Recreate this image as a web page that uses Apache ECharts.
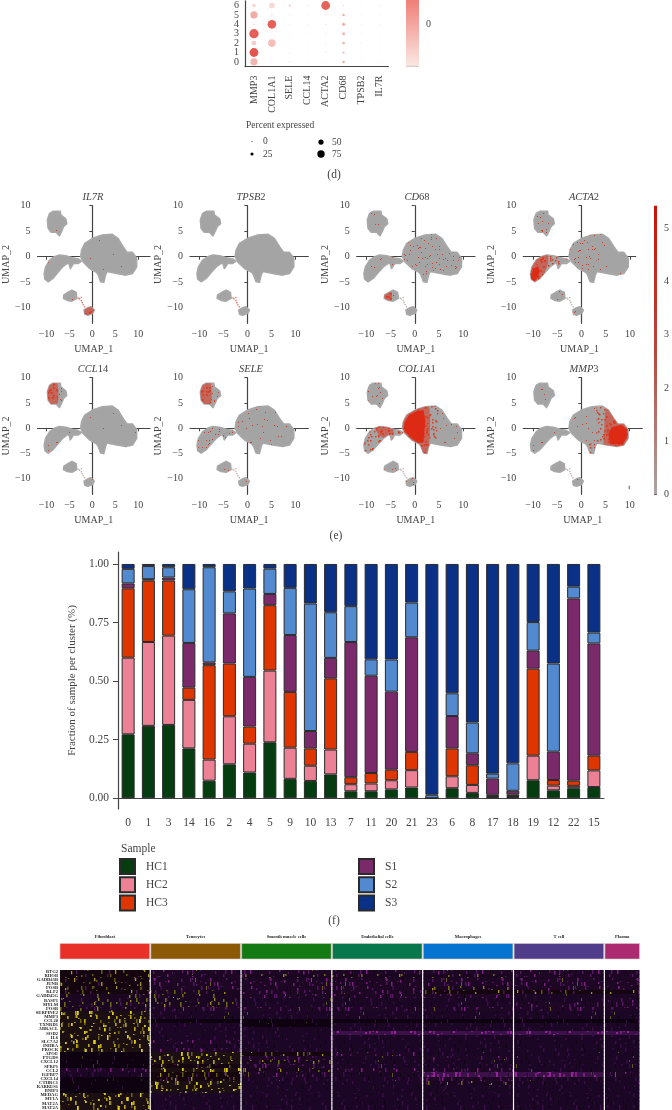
<!DOCTYPE html>
<html><head><meta charset="utf-8">
<style>html,body{margin:0;padding:0;background:#fff;overflow:hidden}#c{width:672px;height:1110px;filter:blur(.4px)}</style>
<script src="https://cdn.jsdelivr.net/npm/echarts@6/dist/echarts.min.js"></script>
</head><body><div id="c"></div><script>
// ---------- (d) dot plot
const dotGenes=['MMP3','COL1A1','SELE','CCL14','ACTA2','CD68','TPSB2','IL7R'];
const dotClusters=['0','1','2','3','4','5','6'];
// one row per gene: percent expressed for clusters 0..6
const dotPct=[[72,92,45,98,12,72,30],[6,2,78,4,90,12,55],[4,3,3,4,5,3,12],[3,2,2,3,3,2,5],[4,4,5,6,6,5,92],[18,14,20,24,24,16,6],[2,2,4,2,2,2,2],[3,2,3,2,4,2,4]];
// matching average expression, 0..1
const dotExp=[[.36,.98,.2,.92,.08,.42,.15],[.05,.02,.3,.03,.92,.05,.14],[.05,.04,.04,.05,.05,.04,.3],[.04,.03,.03,.04,.04,.03,.06],[.06,.06,.08,.08,.08,.06,.9],[.4,.36,.36,.36,.44,.42,.1],[.03,.03,.08,.03,.03,.03,.03],[.05,.03,.06,.03,.06,.03,.06]];
const percentLegend=[0,25,50,75];
// ---------- (e) UMAP
const umapTitles=['IL7R','TPSB2','CD68','ACTA2','CCL14','SELE','COL1A1','MMP3'];
const umapTicks=[-10,-5,0,5,10];
const expressionTicks=[0,1,2,3,4,5];
const blobA=[[-9.3,8.5],[-8.6,8.9],[-7,8.9],[-6.9,8.2],[-5.8,7.4],[-5.6,6.5],[-6.3,5.9],[-6.7,5],[-7.2,4.1],[-7.9,4.8],[-9,4.8],[-9.65,5.6],[-9.8,7.2],[-9.45,8.2]];
const blobB=[[-10.5,-3.3],[-10.2,-2],[-9.3,-.65],[-8.3,0],[-7.2,.33],[-5.8,.2],[-4.4,-.2],[-3.05,-.45],[-2.4,-.85],[-3.05,-1.3],[-4.1,-1.3],[-4.8,-2.3],[-5.1,-1.3],[-5.5,-1.3],[-6.5,-2],[-7.55,-3.1],[-8.6,-4.25],[-9.65,-4.9],[-10.35,-4.4]];
const blobC=[[-2.35,1.3],[-1.65,2.6],[.05,3.6],[2.15,4.25],[4.25,4.4],[5.6,3.6],[6.65,2],[7.55,.85],[8.75,.85],[9.65,-.3],[9.65,-2],[8.75,-3.3],[7.35,-3.6],[5.3,-3.3],[3.2,-2.9],[2.85,-3.6],[2.5,-5],[1.8,-4.9],[1.3,-3.6],[.9,-3.05],[-.6,-2.3],[-2,-1],[-2.55,0]];
const blobD=[[-6.2,-7.5],[-5.15,-6.9],[-4.45,-6.55],[-3.55,-7],[-3.4,-8.15],[-4.45,-8.7],[-5.5,-8.55],[-6.3,-8.15]];
const blobE=[[-1.8,-10.45],[-1,-10],[-.3,-9.8],[.4,-10.45],[.05,-11.1],[-1,-11.45],[-1.65,-11.25]];
const bridge=[[-3,-8.1],[-2.8,-8.3],[-2.4,-8],[-2.4,-8.6],[-2.2,-9],[-2,-9.4],[-1.7,-9.8]];
const cWest=[[-2.35,1.3],[-1.65,2.6],[.05,3.6],[2.15,4.25],[3,4.3],[3.2,1.5],[3,-2.9],[.9,-3.05],[-.6,-2.3],[-2,-1],[-2.55,0]];
const cCore=[[-2,1.3],[-1.2,2.6],[.2,3.3],[1.8,3.6],[2.2,1.5],[1.8,-2.8],[.8,-2.9],[-.5,-2.1],[-1.8,-.9],[-2.3,0]];
const cMid=[[3,4.3],[4.25,4.4],[5,4],[4.8,1.5],[4.6,-3.2],[3,-2.9],[3.2,1.5]];
const cEast=[[5,4],[5.6,3.6],[6.65,2],[7.55,.85],[8.75,.85],[9.65,-.3],[9.65,-2],[8.75,-3.3],[7.35,-3.6],[5.3,-3.3],[4.6,-3.2],[4.8,1.5]];
const eastCore=[[6,-3.2],[8.6,-3.1],[9.4,-1.8],[9.4,-.3],[8.5,.6],[7.5,.5],[6.3,.2],[5.6,-1.2]];
const tail=[[3,-2.9],[2.85,-3.6],[2.5,-5],[1.8,-4.9],[1.3,-3.6],[.9,-3.05]];
const aLeft=[[-9.3,8.5],[-8.6,8.9],[-7.6,8.9],[-7.4,7],[-7.5,5],[-7.9,4.8],[-9,4.8],[-9.65,5.6],[-9.8,7.2],[-9.45,8.2]];
const bLeft=[[-10.5,-3.3],[-10.2,-2],[-9.3,-.65],[-8.3,0],[-7.2,.33],[-6.8,.2],[-6.9,-1.4],[-7.55,-3.1],[-8.6,-4.25],[-9.65,-4.9],[-10.35,-4.4]];
const bCore=[[-10.4,-3.5],[-9.9,-2.4],[-9,-1.8],[-8.6,-2.8],[-9,-4],[-9.7,-4.8],[-10.3,-4.3]];
const bUpper=[[-8.3,0],[-7.2,.33],[-5.8,.2],[-4.4,-.2],[-4.4,-1.3],[-5.5,-1.3],[-6.5,-1.9],[-7.4,-1.4]];
const dLeft=[[-6.2,-7.5],[-5.15,-6.9],[-4.7,-7],[-4.7,-8.6],[-5.5,-8.55],[-6.3,-8.15]];
// expression regions per panel: [region, density level 1-6]
const umapRegions=[
 [[blobD,2],[blobE,5],[blobC,1],[blobB,1],[blobA,1]],
 [],
 [[blobA,2],[blobB,2],[blobC,3],[cMid,3],[tail,3],[blobD,3],[dLeft,5],[blobE,2]],
 [[blobA,3],[blobB,4],[bLeft,5],[bCore,6],[cWest,3],[cMid,2],[cEast,1],[blobD,2],[blobE,2]],
 [[blobA,3],[aLeft,5],[blobB,2],[blobC,1],[blobD,1],[blobE,2]],
 [[blobA,3],[aLeft,5],[blobB,3],[blobC,2],[blobD,2],[blobE,2]],
 [[blobA,3],[blobB,4],[bUpper,5],[cEast,2],[cMid,4],[cWest,5],[cCore,6],[tail,5],[blobD,3],[blobE,3]],
 [[blobA,2],[blobB,2],[cWest,2],[cMid,4],[cEast,5],[eastCore,6],[tail,4],[blobD,1],[blobE,2]]
];
// ---------- (f) stacked bars
const barClusters=['0','1','3','14','16','2','4','5','9','10','13','7','11','20','21','23','6','8','17','18','19','12','22','15'];
const HC1=[.273,.309,.313,.213,.075,.145,.11,.239,.083,.074,.102,.03,.03,.038,.046,0,.043,.023,.005,.005,.077,.034,.043,.048];
const HC2=[.327,.358,.381,.207,.09,.205,.123,.306,.133,.065,.106,.03,.033,.039,.074,0,.051,.034,.005,.005,.105,.02,.01,.071];
const HC3=[.296,.262,.235,.052,.403,.225,.073,.279,.238,.074,.304,.03,.045,.045,.078,0,.119,.084,.005,.007,.371,.024,.022,.063];
const S1=[.021,.006,.013,.191,.012,.214,.212,.048,.243,.074,.087,.577,.415,.333,.489,0,.138,.051,.069,.015,.077,.121,.778,.479];
const S2=[.062,.056,.044,.229,.406,.094,.377,.108,.201,.544,.195,.153,.07,.137,.148,.015,.097,.131,.021,.117,.122,.376,.05,.046];
const S3=[.021,.009,.014,.108,.014,.117,.105,.02,.102,.169,.206,.18,.407,.408,.165,.985,.552,.677,.895,.851,.248,.425,.097,.293];
const sampleNames=['HC1','HC2','HC3','S1','S2','S3'];
const sampleSeries=[HC1,HC2,HC3,S1,S2,S3];
const sampleColors=['#053d10','#ec8095','#df3500','#7a2a6b','#5289cf','#0a3185'];
// ---------- (g) marker heatmap
const cellTypes=['Fibroblast','Tenocytes','Smooth muscle cells','Endothelial cells','Macrophages','T cell','Plasma'];
const cellTypeColors=['#e83028','#8c5a06','#137a14','#07784c','#0474d0','#4f3d8c','#ac2a70'];
const cellCounts=[89.7,89.7,89.7,89.7,89.7,89.7,34.6];
const markerGenes=['BTG2','RHOB','GADD45B','JUNB','FOSB','KLF2','GADD45G','BASP1','MYLM','FOSB','SERPINE2','MMP3','CCL20','TXNRD1','ABRACL','SOD2','IL6','SLC7A2','INHBA','PROCR','APOE','PTGDS','CXCL12','SFRP1','CCL2','IGFBP7','CXCL14','CTHRC1','RARRES1','BNIP3','MEDAG','MT1A','MAT2A','MAT2A'];
// expression band of each gene in each cell type: 0 none .. 6 high
const heatRows=['4222222','4233322','4222222','4222222','4222322','4322444','3322211','3311112','3311122','3222222','5111111','5111111','5000000','5101111','5111111','5116666','5111111','5211111','5111111','5211111','0542111','0521211','0531111','0421111','2532211','1421662','0411211','0511311','0511111','0511111','5111111','5111111','5111111','5111111'];

// ---------- helpers
const serif='"Liberation Serif",serif',ink='#444';
const flecks=[[3,2],[31,19],[14,11],[42,6],[24,25],[8,21],[37,13],[19,4],[45,23],[28,9],[1,14],[12,27],[34,1],[22,17],[40,27],[6,8],[17,23],[30,14],[44,16],[10,15],[26,2],[35,24],[2,26],[20,10],[38,8],[15,18],[43,12],[29,27],[7,4],[24,13],[33,7],[12,5],[41,20],[18,14],[5,17],[27,21],[36,17],[22,1],[46,1],[9,11]];
const fleckShifts=[[0,0],[53,19],[27,36],[74,8],[13,44],[88,31],[39,5],[61,47]];
function texture(base,layers){ // layers: [color,count,width,height]
  const W=97,H=53,c=document.createElement('canvas');c.width=W;c.height=H;const g=c.getContext('2d');
  if(base){g.fillStyle=base;g.fillRect(0,0,W,H);}
  layers.forEach(([color,n,w,h],li)=>{g.fillStyle=color;
    for(let i=0;i<n;i++){const f=flecks[i%40],s=fleckShifts[(Math.floor(i/40)+li)%8];
      g.fillRect((f[0]*2+s[0])%W,(f[1]*2+s[1])%H,w,h);}});
  return c;
}
const red='#dc3a20';
const redTiles={1:texture(null,[[red,12,1,1]]),2:texture(null,[[red,80,1,1]]),3:texture(null,[[red,200,1,1]]),4:texture(null,[[red,320,1.5,1.5]]),5:texture('rgba(218,60,40,.6)',[[red,320,1.7,1.7]])};
const heatFills=[
 texture('#0f0210',[['#341040',22,1,5],['#4a3a10',4,1,5]]),
 texture('#1c0626',[['#380e44',80,1.5,5],['#100414',40,1.5,5],['#5a5a10',3,1,5]]),
 texture('#1d0724',[['#561562',120,1.5,5],['#0e0212',60,1.5,5],['#7e1e80',20,1.5,5],['#6a6014',5,1,5]]),
 texture('#1a0620',[['#4a1650',60,1.5,5],['#6c6a12',50,1.5,5],['#9a9010',14,1,5]]),
 texture('#14050f',[['#4a1650',30,1.5,5],['#5e5810',70,1.5,5],['#a89a12',24,1,5]]),
 texture('#1c0f12',[['#6e6410',100,1.5,5],['#b8a612',60,1.5,5],['#e0d018',22,1.5,5]]),
 texture('#3c1048',[['#7c1a80',120,2,5],['#98229a',34,2,5],['#240a2e',30,1.5,5]])
];
const grids=[],xAxes=[],yAxes=[],series=[],titles=[],graphics=[];
const text=(x,y,t,o={})=>graphics.push({type:'text',x,y,silent:true,style:Object.assign({text:t,fill:ink,font:`${o.size||10}px ${serif}`,textAlign:o.align||'left',textVerticalAlign:'middle'},o.style||{})});
function addGrid(g,x,y){grids.push(Object.assign({containLabel:false},g));xAxes.push(Object.assign({gridIndex:grids.length-1},x));yAxes.push(Object.assign({gridIndex:grids.length-1},y));return grids.length-1;}
const axisLine={lineStyle:{color:'#444',width:1.2}};

// (d) dot plot
const colorExpr=v=>{const a=[251,232,228],b=[220,38,30];return `rgb(${a.map((s,i)=>Math.round(s+(b[i]-s)*v)).join(',')})`;};
const gd=addGrid({left:245,top:.8,width:143.4,height:65.8},
 {type:'category',data:dotGenes,axisLine,axisTick:{length:3,lineStyle:{color:'#444'}},axisLabel:{rotate:90,fontFamily:serif,fontSize:10,color:ink,margin:9,interval:0}},
 {type:'category',data:dotClusters,axisLine,axisTick:{length:3,lineStyle:{color:'#444'}},axisLabel:{fontFamily:serif,fontSize:10,color:ink,margin:6,interval:0}});
const dotData=[];dotGenes.forEach((g,i)=>dotClusters.forEach((c,j)=>dotData.push({value:[g,c,dotPct[i][j]],itemStyle:{color:colorExpr(dotExp[i][j])}})));
series.push({type:'scatter',xAxisIndex:gd,yAxisIndex:gd,data:dotData,symbolSize:v=>1+.085*v[2],clip:false,silent:true});
function colorbar(pos,min,max,ticks,stops,labelSize){
  const i=addGrid(pos,{type:'value',min:0,max:1,show:false},
   {type:'value',position:'right',min,max,splitLine:{show:false},axisLine:{show:false},axisTick:{show:true,length:3,inside:false,customValues:ticks,lineStyle:{color:'#555'}},axisLabel:{customValues:ticks,fontFamily:serif,fontSize:labelSize,color:ink,margin:7}});
  series.push({type:'custom',xAxisIndex:i,yAxisIndex:i,silent:true,data:[[0,min,1,max]],renderItem:(p,api)=>{const a=api.coord([0,max]),b=api.coord([1,min]);return {type:'rect',shape:{x:a[0],y:a[1],width:b[0]-a[0],height:b[1]-a[1]},style:{fill:new echarts.graphic.LinearGradient(0,0,0,1,stops)}};}});
}
colorbar({left:406,top:0,width:13,height:67},-1,.576,[0],[{offset:0,color:'#ef7f78'},{offset:.97,color:'#fbe6e2'},{offset:1,color:'#cfc8c6'}],10);
colorbar({left:654,top:205.7,width:8.4,height:288.6},0,5.43,expressionTicks,[{offset:0,color:'#cc1005'},{offset:.5,color:'#b9453c'},{offset:1,color:'#aaa5a3'}],10);
// percent legend
text(246,125,'Percent expressed',{size:9.5});
const legendDots=[[252,141.5],[252,154],[321,142],[321,154]];
percentLegend.forEach((v,i)=>{const [x,y]=legendDots[i];
 graphics.push({type:'circle',x,y,silent:true,shape:{r:(1+.085*v)/2},style:{fill:'#000'}});
 text(x+11,y,String(v),{size:9.5});});
text(334,175,'(d)',{size:11.5,align:'center'});
text(336,536,'(e)',{size:11.5,align:'center'});
text(334,921,'(f)',{size:11.5,align:'center'});

// (e) UMAP panels
const cols=[{l:32.3,r:150,x0:-11.96,x1:12.57},{l:190,r:308.3,x0:-11.96,x1:12.68},{l:356.7,r:475,x0:-12,x1:12.45},{l:523.3,r:635.7,x0:-12,x1:11.2}];
const rows=[{t:205.7,b:323.3},{t:377.7,b:494.3}];
const titleCenters=[88,246,412,579];
const nameGaps=[13,13,18,25];
const tickFmt=v=>String(v).replace('-','\u2212');
const axisFont={fontFamily:serif,fontSize:10,color:ink,formatter:tickFmt};
umapTitles.forEach((title,k)=>{
 const c=Object.assign({},cols[k%4]),r=rows[k>3?1:0];
 if(k===7){c.r=642.3;c.x1=12.6;}
 const i=addGrid({left:c.l,width:c.r-c.l,top:r.t,height:r.b-r.t},
  {type:'value',min:c.x0,max:c.x1,splitLine:{show:false},axisLine,axisTick:{length:3,customValues:umapTicks,lineStyle:{color:'#444'}},axisLabel:Object.assign({customValues:umapTicks,margin:6},axisFont),name:'UMAP_1',nameLocation:'middle',nameGap:21,nameTextStyle:{fontFamily:serif,fontSize:10,color:ink}},
  {type:'value',min:-13.05,max:10,splitLine:{show:false},axisLine,axisTick:{length:3,customValues:umapTicks,lineStyle:{color:'#444'}},axisLabel:Object.assign({customValues:umapTicks,margin:7},axisFont),name:'UMAP_2',nameLocation:'middle',nameGap:nameGaps[k%4],nameTextStyle:{fontFamily:serif,fontSize:10,color:ink}});
 const m=title.match(/^(.*?)(\d*)$/);
 titles.push({text:'{i|'+m[1]+'}'+(m[2]?'{n|'+m[2]+'}':''),left:titleCenters[k%4],top:r.t-19,textAlign:'center',textStyle:{fontWeight:'normal',rich:{i:{fontFamily:serif,fontStyle:'italic',fontWeight:'normal',fontSize:10.5,color:ink},n:{fontFamily:serif,fontWeight:'normal',fontSize:10.5,color:ink}}}});
 const poly=(pts,fill,stroke)=>series.push({type:'custom',xAxisIndex:i,yAxisIndex:i,silent:true,clip:false,data:[[pts[0][0],pts[0][1]]],renderItem:(p,api)=>({type:'polygon',shape:{points:pts.map(q=>api.coord(q))},style:stroke?{fill,stroke,lineWidth:1.6,lineJoin:'round'}:{fill}})});
 [blobA,blobB,blobC,blobD,blobE].forEach(b=>poly(b,'#a4a4a4','#a8a8a8'));
 series.push({type:'scatter',xAxisIndex:i,yAxisIndex:i,silent:true,symbolSize:1.6,itemStyle:{color:k===0||k===1?'#d84a34':'#b59a96'},data:bridge});
 umapRegions[k].forEach(([pts,lvl])=>poly(pts,lvl>=6?'#dc2a14':{image:redTiles[lvl],repeat:'repeat'}));
 if(k===7)series.push({type:'scatter',xAxisIndex:i,yAxisIndex:i,silent:true,symbol:'rect',symbolSize:[1,3.5],itemStyle:{color:'#333'},data:[[9.9,-11.7]]});
});

// (f) stacked bars
const gb=addGrid({left:118,top:552,width:486,height:257},
 {type:'category',data:barClusters,axisLine,axisTick:{alignWithLabel:true,length:5,lineStyle:{color:'#444'}},axisLabel:{fontFamily:serif,fontSize:11.5,color:ink,margin:8,interval:0}},
 {type:'value',min:-.0457,max:1.051,splitLine:{show:false},axisLine:{show:true,lineStyle:{color:'#444',width:1.2}},axisTick:{show:true,length:5,customValues:[0,.25,.5,.75,1],lineStyle:{color:'#444'}},
  axisLabel:{customValues:[0,.25,.5,.75,1],formatter:v=>v.toFixed(2),fontFamily:serif,fontSize:11.5,color:ink,margin:9},
  name:'Fraction of sample per cluster (%)',nameLocation:'middle',nameGap:27,nameTextStyle:{fontFamily:serif,fontSize:11,color:ink,padding:[0,0,6,0]}});
sampleNames.forEach((n,i)=>series.push({type:'bar',name:n,xAxisIndex:gb,yAxisIndex:gb,stack:'f',barWidth:13,data:sampleSeries[i],silent:true,itemStyle:{color:sampleColors[i],borderColor:'#2a2a2a',borderWidth:1}}));
text(121,849,'Sample',{size:11.5});
const mkLegend=(names,left)=>({data:names,left,top:858,orient:'vertical',icon:'rect',itemWidth:15,itemHeight:15,itemGap:1.3,selectedMode:false,padding:0,textStyle:{fontFamily:serif,fontSize:11.5,color:ink,padding:[0,0,0,6]}});

// (g) heatmap
const heatLeft=60,gap=1.2;
const starts=[];cellCounts.reduce((s,w,i)=>{starts[i]=s;return s+w+gap;},0);
const heatTotal=starts[6]+cellCounts[6];
const ga=addGrid({left:heatLeft,width:579.5,top:943.5,height:15.5},{type:'value',min:0,max:heatTotal,show:false},{type:'value',min:0,max:1,show:false});
series.push({type:'custom',xAxisIndex:ga,yAxisIndex:ga,silent:true,clip:false,data:cellTypes.map((n,i)=>[starts[i],cellCounts[i]]),
 renderItem:(p,api)=>{const i=p.dataIndex,a=api.coord([api.value(0),1]),b=api.coord([api.value(0)+api.value(1),0]);
  return {type:'group',children:[
   {type:'rect',shape:{x:a[0],y:a[1],width:b[0]-a[0],height:b[1]-a[1]},style:{fill:cellTypeColors[i],stroke:'#d8c8c4',lineWidth:.6}},
   {type:'text',style:{x:(a[0]+b[0])/2,y:a[1]-7,text:cellTypes[i],fill:'#222',font:`bold 4.6px ${serif}`,textAlign:'center',textVerticalAlign:'middle'}}]};}});
const gh=addGrid({left:heatLeft,width:579.5,top:969.5,height:141.1},
 {type:'value',min:0,max:heatTotal,show:false},
 {type:'category',inverse:true,data:markerGenes,axisLine:{show:false},axisTick:{show:false},axisLabel:{interval:0,fontFamily:serif,fontSize:4.6,fontWeight:'bold',color:'#222',margin:2}});
const heatData=[];heatRows.forEach((r,ri)=>[...r].forEach((l,gi)=>heatData.push([starts[gi],ri,cellCounts[gi],+l,gi])));
series.push({type:'custom',xAxisIndex:gh,yAxisIndex:gh,silent:true,data:heatData,
 renderItem:(p,api)=>{const x=api.value(0),ri=api.value(1),gi=api.value(4),a=api.coord([x,ri]),b=api.coord([x+api.value(2),ri]),h=api.size([0,1])[1];
  const y0=Math.round(a[1]-h/2),y1=Math.round(a[1]+h/2);
  return {type:'rect',shape:{x:a[0],y:y0,width:b[0]-a[0],height:y1-y0+.5},style:{fill:{image:heatFills[api.value(3)],repeat:'repeat',x:(ri*37+gi*19)%97,y:(ri*23)%53}}};}});

const chart=echarts.init(document.getElementById('c'),null,{renderer:'canvas'});
chart.setOption({animation:false,backgroundColor:'#fff',title:titles,grid:grids,xAxis:xAxes,yAxis:yAxes,series,
 legend:[mkLegend(['HC1','HC2','HC3'],119),mkLegend(['S1','S2','S3'],358)],
 graphic:{elements:graphics}});
</script></body></html>
